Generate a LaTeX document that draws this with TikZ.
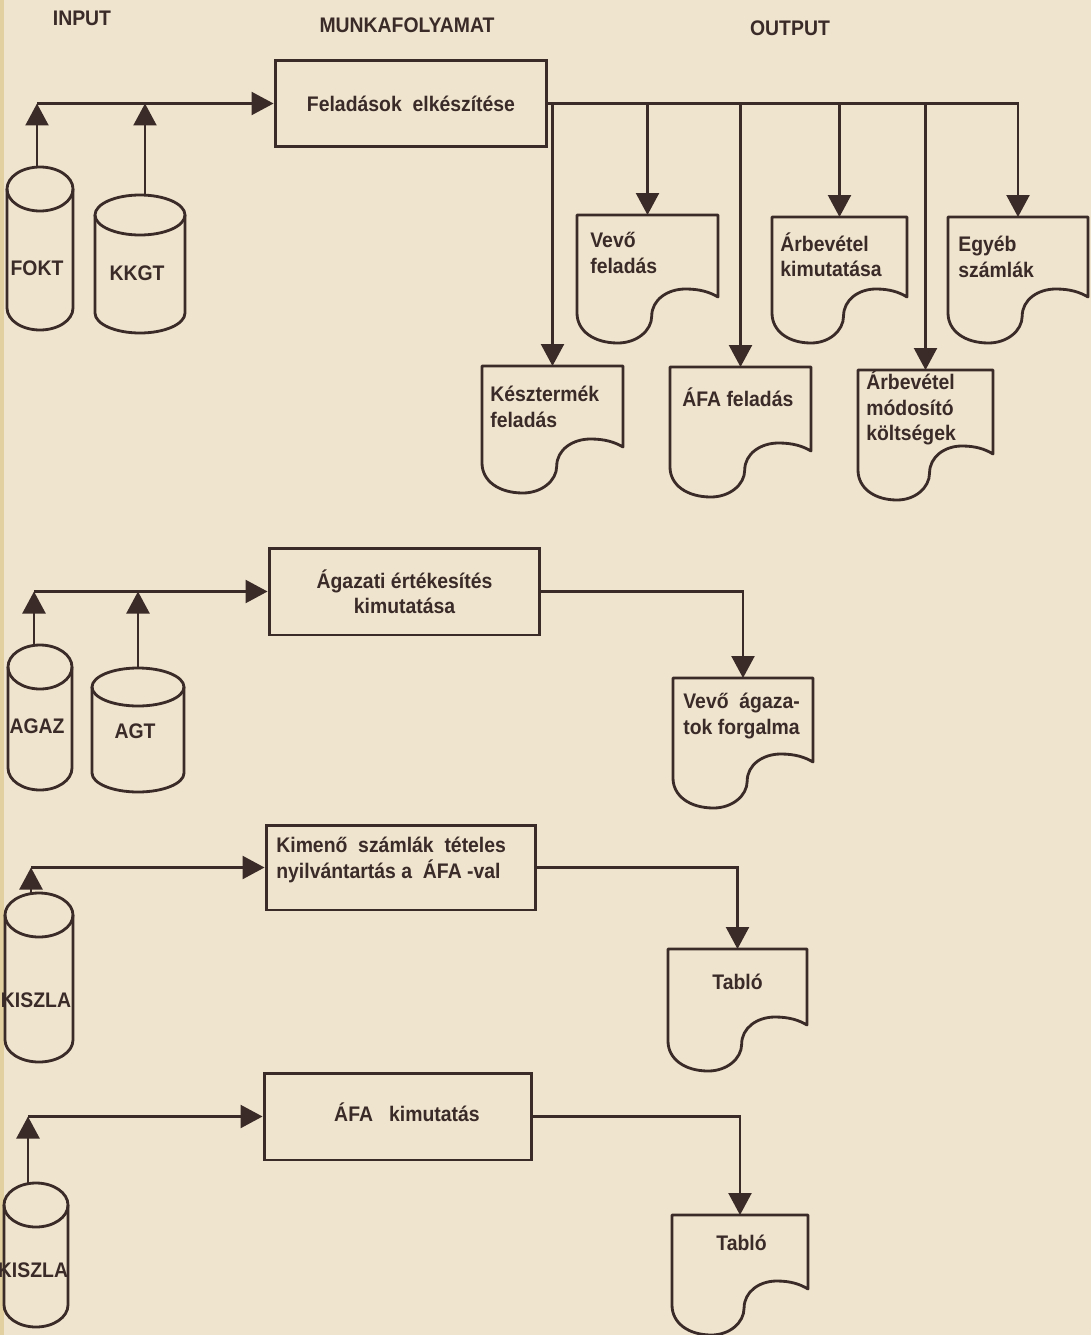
\documentclass[tikz,border=0pt]{standalone}
\usepackage{fontspec}
\setmainfont{Liberation Sans}[FakeStretch=0.92]
\usetikzlibrary{arrows.meta}
\definecolor{paper}{RGB}{239,228,206}
\definecolor{ink}{RGB}{58,42,40}
\definecolor{edgeband}{RGB}{226,208,160}
\newcommand\lblfont{\fontsize{12}{14.5}\selectfont\bfseries}
\tikzset{
  ln/.style={draw=ink, line width=1.3pt},
  bx/.style={draw=ink, line width=1.7pt, inner sep=0pt, font=\lblfont, text=ink, align=center},
  outl/.style={draw=ink, line width=1.6pt, line join=round},
  lbl/.style={font=\lblfont, text=ink, inner sep=0pt, align=left},
  arr/.style={ln, -{Triangle[width=0.46cm,length=0.44cm]}},
}
% name, cx, top, bottom, rx, ry, label, label y, stem x
\newcommand\cylinderdraw[9]{%
  \draw[outl] (#2-#5,#3+#6) -- (#2-#5,#4-#6)
    arc[start angle=180,end angle=0,x radius=#5,y radius=#6] -- (#2+#5,#3+#6);
  \draw[outl] (#2,#3+#6) ellipse[x radius=#5, y radius=#6];
  \coordinate (#1) at (#9,#3+1);
  \node[lbl] (#1-l) at (#2-3,#8) {#7};
}
% name, x, y, w, h, text x, text y, text
\newcommand\docdraw[8]{%
  \draw[outl] (#2,#3+#5) -- (#2,#3) -- (#2+#4,#3) -- (#2+#4,#3+#5-16)
    .. controls (#2+0.94*#4,#3+#5-21) and (#2+0.87*#4,#3+#5-24) .. (#2+0.77*#4,#3+#5-24)
    .. controls (#2+0.64*#4,#3+#5-24) and (#2+0.53*#4,#3+#5-13) .. (#2+0.53*#4,#3+#5+3)
    .. controls (#2+0.53*#4,#3+#5+18) and (#2+0.42*#4,#3+#5+30) .. (#2+0.29*#4,#3+#5+30)
    .. controls (#2+0.12*#4,#3+#5+30) and (#2,#3+#5+18) .. cycle;
  \coordinate (#1) at (#2+0.5*#4,#3);
  \node[lbl, anchor=west] (#1-t) at (#6,#7) {#8};
}
\begin{document}
\begin{tikzpicture}[x=0.02cm,y=-0.02cm]
\useasboundingbox (0,0) rectangle (1091,1335);
\fill[paper] (0,0) rectangle (1091,1335);
\fill[edgeband] (0,0) rectangle (4,1335);

% titles
\node[lbl] (tin) at (82,18) {INPUT};
\node[lbl] (tmf) at (407,25) {MUNKAFOLYAMAT};
\node[lbl] (tout) at (790,28) {OUTPUT};

% process boxes
\node[bx, minimum width=5.44cm, minimum height=1.74cm] (b1) at (411,103.5) {Feladások\ \ elkészítése};
\node[bx, minimum width=5.42cm, minimum height=1.74cm] (b2) at (404.5,591.5) {Ágazati értékesítés\\kimutatása};
\node[bx, minimum width=5.40cm, minimum height=1.70cm] (b3) at (401,867.5) {};
\node[lbl, anchor=west] (b3-t) at (276,860) {Kimenő\ \ számlák\ \ tételes\\nyilvántartás a\ \ ÁFA -val};
\node[bx, minimum width=5.36cm, minimum height=1.74cm] (b4) at (398,1116.5) {};
\node[lbl] (b4-t) at (407,1112) {ÁFA\ \ \ kimutatás};

% input files
\cylinderdraw{fokt}{40}{167}{330}{33}{22}{FOKT}{268}{37}
\cylinderdraw{kkgt}{140}{195}{333}{45}{20}{KKGT}{273}{145}
\cylinderdraw{agaz}{40}{645}{790}{32}{22}{AGAZ}{726}{34}
\cylinderdraw{agt}{138}{668}{792}{46}{19}{AGT}{731}{138}
\cylinderdraw{kiszla}{39}{893}{1062}{34}{22}{KISZLA}{1000}{31}
\cylinderdraw{kiszlb}{36}{1183}{1327}{32}{22}{KISZLA}{1270}{28}

% output documents
\docdraw{dvevo}{577}{215}{141}{98}{590}{253}{Vevő\\feladás}
\docdraw{darbk}{772}{217}{135}{96}{780}{255}{Árbevétel\\kimutatása}
\docdraw{degyeb}{948}{217}{140}{96}{958}{257}{Egyéb\\számlák}
\docdraw{dkesz}{482}{366}{141}{97}{490}{407}{Késztermék\\feladás}
\docdraw{dafa}{670}{367}{141}{100}{682}{397}{ÁFA feladás}
\docdraw{darbm}{858}{370}{135}{100}{866}{408}{Árbevétel\\módosító\\költségek}
\docdraw{dvagaz}{673}{678}{140}{100}{683}{716}{Vevő\ \ ágaza-\\tok forgalma}
\docdraw{dtab}{668}{949}{139}{92}{712}{982}{Tabló}
\docdraw{dtabb}{672}{1215}{136}{90}{716}{1243}{Tabló}

% inputs
\draw[arr] (fokt) -- (fokt |- b1.west);
\draw[arr] (kkgt) -- (kkgt |- b1.west);
\draw[arr] (fokt |- b1.west) -- (b1.west);
\draw[arr] (agaz) -- (agaz |- b2.west);
\draw[arr] (agt) -- (agt |- b2.west);
\draw[arr] (agaz |- b2.west) -- (b2.west);
\draw[arr] (kiszla) -- (kiszla |- b3.west);
\draw[arr] (kiszla |- b3.west) -- (b3.west);
\draw[arr] (kiszlb) -- (kiszlb |- b4.west);
\draw[arr] (kiszlb |- b4.west) -- (b4.west);

% outputs
\foreach \d in {dkesz,dvevo,dafa,darbk,darbm,degyeb}
  \draw[arr] (b1.east) -| (\d);
\draw[arr] (b2.east) -| (dvagaz);
\draw[arr] (b3.east) -| (dtab);
\draw[arr] (b4.east) -| (dtabb);
\end{tikzpicture}
\end{document}
